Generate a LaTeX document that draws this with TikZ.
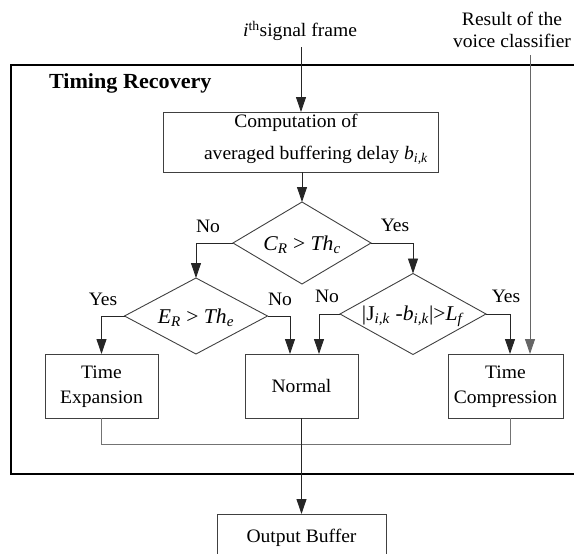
\documentclass[tikz,border=0pt]{standalone}
\usepackage{fontspec}
\setmainfont{Liberation Serif}[FakeStretch=1.03]
\usetikzlibrary{arrows.meta,shapes.geometric}
\begin{document}
\begin{tikzpicture}[x=1pt,y=-1pt,
  txt/.style={font=\fontsize{19}{23}\selectfont, inner sep=0pt, outer sep=0pt},
  dtxt/.style={font=\fontsize{21}{25}\selectfont, inner sep=0pt, outer sep=0pt},
  boldtxt/.style={font=\fontsize{21.5}{25}\selectfont\bfseries, inner sep=0pt, outer sep=0pt},
  boxst/.style={draw=black!75, line width=0.9pt, inner sep=0pt, outer sep=0pt},
  dia/.style={diamond, draw=black!75, line width=0.9pt, inner sep=0pt, outer sep=0pt},
  conn/.style={draw=black!85, line width=0.9pt},
  arr/.style={conn, -{Triangle[length=15pt,width=10pt]}},
  grayl/.style={draw=black!55, line width=1pt}]
\useasboundingbox (0,0) rectangle (574,554);
\clip (0,0) rectangle (574,554);

% outer frame
\draw[line width=1.1pt] (11,65) rectangle (600,474);
\node[boldtxt, anchor=base west] (title) at (49,88) {Timing Recovery};

% inputs
\node[txt, anchor=base] (sigtxt) at (300,37) {\textit{i}\textsuperscript{th}signal frame};
\coordinate (sig) at (301,47);
\node[txt, anchor=base] (res1) at (512,26) {Result of the};
\node[txt, anchor=base] (res2) at (512,48) {voice classifier};
\coordinate (voice) at (530,55);

% computation box
\node[boxst, minimum width=275, minimum height=60] (comp) at (300.5,142) {};
\node[txt, anchor=base] (comp1) at (296,127) {Computation of};
\node[txt, anchor=base] (comp2) at (316,159) {averaged buffering delay \textit{b}\textsubscript{\textit{i,k}}};

% diamonds
\node[dia, minimum width=138, minimum height=82] (C) at (302,243) {};
\node[dtxt] (Ct) at (302,245) {\textit{C}\textsubscript{\textit{R}} > \textit{Th}\textsubscript{\textit{c}}};
\node[dia, minimum width=143, minimum height=76] (E) at (196,316) {};
\node[dtxt] (Et) at (196,318) {\textit{E}\textsubscript{\textit{R}} > \textit{Th}\textsubscript{\textit{e}}};
\node[dia, minimum width=146, minimum height=81] (J) at (413,314) {};
\node[dtxt] (Jt) at (413,316) {|J\textsubscript{\textit{i,k}} -\textit{b}\textsubscript{\textit{i,k}}|>\textit{L}\textsubscript{\textit{f}}};

% result boxes
\node[boxst, minimum width=113, minimum height=64] (TE) at (101.5,386) {};
\node[txt, anchor=base] (TE1) at (101.5,378) {Time};
\node[txt, anchor=base] (TE2) at (101.5,403) {Expansion};
\node[boxst, minimum width=113, minimum height=64] (N) at (301.5,386) {};
\node[txt, anchor=base] (Nt) at (301.5,392) {Normal};
\node[boxst, minimum width=115, minimum height=64] (TC) at (505.5,386) {};
\node[txt, anchor=base] (TC1) at (505.5,378) {Time};
\node[txt, anchor=base] (TC2) at (505.5,403) {Compression};
\node[boxst, minimum width=169, minimum height=60] (OB) at (301.5,544) {};
\node[txt, anchor=base] (OBt) at (301.5,542) {Output Buffer};

% entry points
\coordinate (n1) at (290,354);
\coordinate (n2) at (319,354);
\coordinate (tc1) at (510,354);

% labels
\node[txt] (l1) at (208,226) {No};
\node[txt] (l2) at (395,225) {Yes};
\node[txt] (l3) at (103,299) {Yes};
\node[txt] (l4) at (280,299) {No};
\node[txt] (l5) at (327,296) {No};
\node[txt] (l6) at (506,296) {Yes};

% connectors
\draw[arr] (sig) -- (sig |- comp.north);
\draw[arr] (C.north |- comp.south) -- (C.north);
\draw[arr] (C.west) -| (E.north);
\draw[arr] (C.east) -| (J.north);
\draw[arr] (E.west) -| (TE.north);
\draw[arr] (E.east) -| (n1);
\draw[arr] (J.west) -| (n2);
\draw[arr] (J.east) -| (tc1);
\draw[arr, draw=black!60] (voice) -- (voice |- TC.north);
\draw[grayl] (TE.south) -- ++(0,26) -| (tc1 |- TC.south);
\draw[arr] (N.south) -- (OB.north);
\end{tikzpicture}
\end{document}
